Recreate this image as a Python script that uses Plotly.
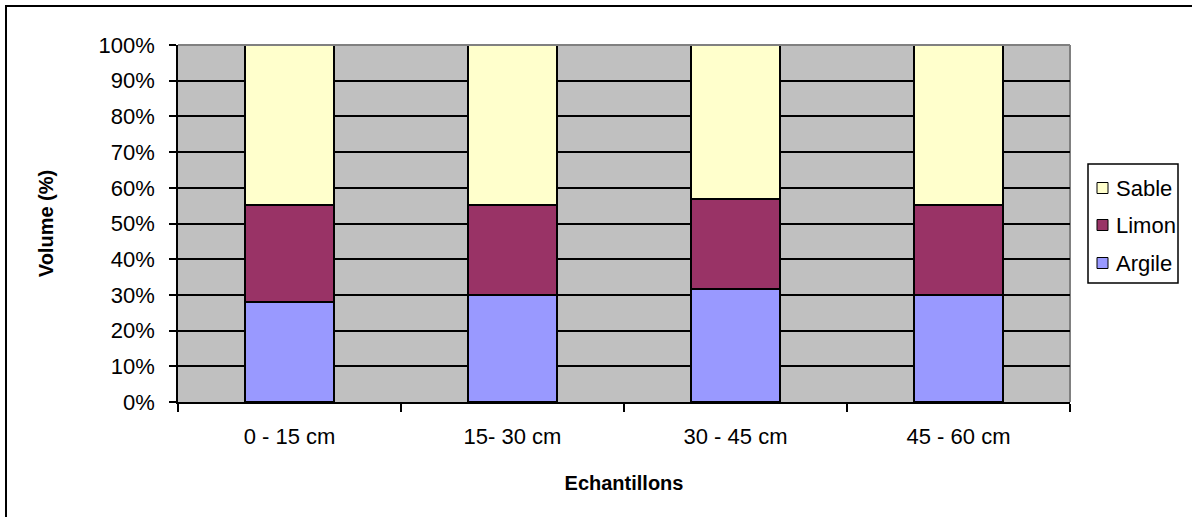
import plotly.graph_objects as go

categories = ["0 - 15 cm", "15- 30 cm", "30 - 45 cm", "45 - 60 cm"]
argile = [28.0, 30.0, 31.6, 30.0]
limon = [27.2, 25.2, 25.2, 25.2]
sable = [44.8, 44.8, 43.2, 44.8]
y_ticks = [0, 10, 20, 30, 40, 50, 60, 70, 80, 90, 100]
y_tick_labels = [f"{v}%" for v in y_ticks]
series = [("Argile", argile, "#9999FF"),
          ("Limon", limon, "#993366"),
          ("Sable", sable, "#FFFFCC")]

FONT = "Liberation Sans, Arial, sans-serif"
TICK_SIZE = 22
TITLE_SIZE = 20

L, T, W, H = 178, 45, 892, 357
FW, FH = 1192, 517


def px_x(x):
    return (x - L) / W


def px_y(y):
    return (T + H - y) / H


fig = go.Figure()
for name, vals, col in series:
    fig.add_trace(go.Bar(x=categories, y=vals, name=name, showlegend=False,
                         marker=dict(color=col, line=dict(color="black", width=1.5)),
                         width=0.4))

shapes = [
    dict(type="line", xref="paper", yref="paper", x0=0, x1=1, y0=1, y1=1,
         line=dict(color="#808080", width=2), layer="above"),
    dict(type="line", xref="paper", yref="paper", x0=1, x1=1, y0=0, y1=1,
         line=dict(color="#808080", width=2), layer="below"),
    dict(type="rect", xref="paper", yref="paper",
         x0=px_x(6), x1=1.5, y0=-1.0, y1=px_y(6),
         line=dict(color="black", width=2)),
    # legend box
    dict(type="rect", xref="paper", yref="paper",
         x0=px_x(1088), x1=px_x(1178), y0=px_y(283), y1=px_y(164),
         line=dict(color="black", width=1.5), fillcolor="white"),
]
annotations = []
legend_y = {"Sable": 188, "Limon": 225, "Argile": 263}
for name, vals, col in series:
    yc = legend_y[name]
    shapes.append(dict(type="rect", xref="paper", yref="paper",
                       x0=px_x(1097), x1=px_x(1108), y0=px_y(yc + 5.5), y1=px_y(yc - 5.5),
                       line=dict(color="black", width=1), fillcolor=col))
    annotations.append(dict(xref="paper", yref="paper", x=px_x(1114), y=px_y(yc),
                            xanchor="left", yanchor="middle", showarrow=False,
                            text=name, font=dict(size=TICK_SIZE)))

fig.update_layout(
    width=FW, height=FH,
    barmode="stack",
    paper_bgcolor="white",
    plot_bgcolor="#C0C0C0",
    margin=dict(l=L, r=FW - L - W, t=T, b=FH - T - H, autoexpand=False),
    font=dict(family=FONT, size=TICK_SIZE, color="black"),
    showlegend=False,
    xaxis=dict(showgrid=False, showline=True, linecolor="black", linewidth=1.5,
               ticks="outside", ticklen=8, tickcolor="black", tickwidth=1.5,
               tickson="boundaries", ticklabelstandoff=14,
               title=dict(text="<b>Echantillons</b>", font=dict(size=TITLE_SIZE), standoff=28)),
    yaxis=dict(range=[0, 100], tickvals=y_ticks, ticktext=y_tick_labels,
               showgrid=True, gridcolor="black", gridwidth=1.5,
               showline=True, linecolor="black", linewidth=1.5,
               ticks="outside", ticklen=7, tickcolor="black", tickwidth=1.5,
               zeroline=False, ticklabelstandoff=10,
               title=dict(text="<b>Volume (%)</b>", font=dict(size=TITLE_SIZE), standoff=40)),
    shapes=shapes,
    annotations=annotations,
)

fig.write_html("out.html", config={"displayModeBar": False},
               post_script="document.body.style.margin='0';document.body.style.overflow='hidden';")
